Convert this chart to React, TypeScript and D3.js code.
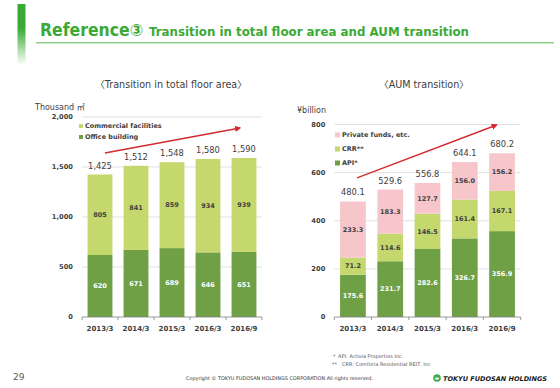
import React, { useRef, useEffect } from 'react';
import * as d3 from 'd3';

const categories = ['2013/3', '2014/3', '2015/3', '2016/3', '2016/9'];

// total floor area (thousand m2)
const officeBuilding = [620, 671, 689, 646, 651];
const commercialFacilities = [805, 841, 859, 934, 939];
const floorTotals = [1425, 1512, 1548, 1580, 1590];
const floorTicks = [0, 500, 1000, 1500, 2000];

// AUM (billion yen)
const apiValues = [175.6, 231.7, 282.6, 326.7, 356.9];
const crrValues = [71.2, 114.6, 146.5, 161.4, 167.1];
const privateFunds = [233.3, 183.3, 127.7, 156.0, 156.2];
const aumTotals = [480.1, 529.6, 556.8, 644.1, 680.2];
const aumTicks = [0, 200, 400, 600, 800];

// trend arrows: [category, position inside band, value]
const floorArrow: [string, number, number][] = [['2013/3', 0.7, 1640], ['2016/9', 0.34, 1890]];
const aumArrow: [string, number, number][] = [['2013/3', 0.66, 578], ['2016/9', 0.29, 798]];

const DARK = '#70a046';
const LIGHT = '#c4d86d';
const PINK = '#f6c6cb';
const GREEN = '#3aaa35';
const TEXT = '#404040';
const FONT = '"DejaVu Sans", Verdana, "Noto Sans CJK JP", sans-serif';

interface Series {
  name: string;
  values: number[];
  color: string;
  textColor: string;
}

interface ChartCfg {
  x0: number;
  x1: number;
  yBottom: number;
  yTop: number;
  ticks: number[];
  tickFormat: (d: number) => string;
  valueFormat: (d: number) => string;
  series: Series[];
  totals: number[];
  unit: string;
  unitX: number;
  unitY: number;
  legend: { x: number; y: number; dy: number; size: number };
  arrow: [string, number, number][];
}

function drawStacked(svg: d3.Selection<SVGSVGElement, unknown, null, undefined>, cfg: ChartCfg) {
  const g = svg.append('g').attr('font-family', FONT);

  const x = d3.scaleBand<string>()
    .domain(categories)
    .range([cfg.x0, cfg.x1])
    .paddingInner(0.31)
    .paddingOuter(0.155);
  const y = d3.scaleLinear()
    .domain([0, cfg.ticks[cfg.ticks.length - 1]])
    .range([cfg.yBottom, cfg.yTop]);

  // grid
  g.append('g')
    .selectAll('line')
    .data(cfg.ticks.filter(t => t > 0))
    .join('line')
    .attr('x1', cfg.x0)
    .attr('x2', cfg.x1)
    .attr('y1', d => y(d))
    .attr('y2', d => y(d))
    .attr('stroke', '#d9d9d9')
    .attr('stroke-width', 0.8);

  // y tick labels
  g.append('g')
    .selectAll('text')
    .data(cfg.ticks)
    .join('text')
    .attr('x', cfg.x0 - 9)
    .attr('y', d => y(d))
    .attr('dy', '0.35em')
    .attr('text-anchor', 'end')
    .attr('font-size', 6.7)
    .attr('font-weight', 'bold')
    .attr('fill', TEXT)
    .text(d => cfg.tickFormat(d));

  g.append('text')
    .attr('x', cfg.unitX)
    .attr('y', cfg.unitY)
    .attr('font-size', 8)
    .attr('fill', TEXT)
    .text(cfg.unit);

  // stacked bars
  const rows = categories.map((c, i) => {
    const r: Record<string, number | string> = { cat: c };
    cfg.series.forEach(s => { r[s.name] = s.values[i]; });
    return r;
  });
  const stack = d3.stack<Record<string, number | string>>().keys(cfg.series.map(s => s.name));
  const layers = stack(rows as any);

  layers.forEach((layer, li) => {
    const s = cfg.series[li];
    const lg = g.append('g');
    lg.selectAll('rect')
      .data(layer)
      .join('rect')
      .attr('x', d => x(d.data.cat as string)!)
      .attr('width', x.bandwidth())
      .attr('y', d => y(d[1]))
      .attr('height', d => y(d[0]) - y(d[1]))
      .attr('fill', s.color);
    lg.selectAll('text')
      .data(layer)
      .join('text')
      .attr('x', d => x(d.data.cat as string)! + x.bandwidth() / 2)
      .attr('y', d => (y(d[0]) + y(d[1])) / 2)
      .attr('dy', '0.35em')
      .attr('text-anchor', 'middle')
      .attr('font-size', 6.5)
      .attr('font-weight', 'bold')
      .attr('fill', s.textColor)
      .text(d => cfg.valueFormat(d[1] - d[0]));
  });

  // totals
  g.append('g')
    .selectAll('text')
    .data(cfg.totals)
    .join('text')
    .attr('x', (_, i) => x(categories[i])! + x.bandwidth() / 2)
    .attr('y', d => y(d) - 6)
    .attr('text-anchor', 'middle')
    .attr('font-size', 8.3)
    .attr('fill', TEXT)
    .text(d => cfg.valueFormat(d));

  // x axis
  const step = x.step();
  g.append('line')
    .attr('x1', cfg.x0)
    .attr('x2', cfg.x1)
    .attr('y1', y(0))
    .attr('y2', y(0))
    .attr('stroke', '#7f7f7f')
    .attr('stroke-width', 0.8);
  g.append('g')
    .selectAll('line')
    .data(d3.range(categories.length + 1))
    .join('line')
    .attr('x1', i => cfg.x0 + i * step)
    .attr('x2', i => cfg.x0 + i * step)
    .attr('y1', y(0))
    .attr('y2', y(0) + 3)
    .attr('stroke', '#7f7f7f')
    .attr('stroke-width', 0.8);
  g.append('g')
    .selectAll('text')
    .data(categories)
    .join('text')
    .attr('x', d => x(d)! + x.bandwidth() / 2)
    .attr('y', y(0) + 14)
    .attr('text-anchor', 'middle')
    .attr('font-size', 7)
    .attr('font-weight', 'bold')
    .attr('fill', TEXT)
    .text(d => d);

  // legend (top of stack first)
  const legendItems = [...cfg.series].reverse();
  const leg = g.append('g');
  legendItems.forEach((s, i) => {
    const ly = cfg.legend.y + i * cfg.legend.dy;
    leg.append('rect')
      .attr('x', cfg.legend.x)
      .attr('y', ly - cfg.legend.size / 2)
      .attr('width', cfg.legend.size)
      .attr('height', cfg.legend.size)
      .attr('fill', s.color);
    leg.append('text')
      .attr('x', cfg.legend.x + cfg.legend.size + 2)
      .attr('y', ly)
      .attr('dy', '0.35em')
      .attr('font-size', 6.5)
      .attr('font-weight', 'bold')
      .attr('fill', TEXT)
      .text(s.name);
  });

  // trend arrow
  const [a, b] = cfg.arrow;
  g.append('line')
    .attr('x1', x(a[0])! + x.bandwidth() * a[1])
    .attr('y1', y(a[2]))
    .attr('x2', x(b[0])! + x.bandwidth() * b[1])
    .attr('y2', y(b[2]))
    .attr('stroke', '#d42a2f')
    .attr('stroke-width', 1.4)
    .attr('marker-end', 'url(#arrowHead)');
}

const App: React.FC = () => {
  const svgRef = useRef<SVGSVGElement>(null);

  useEffect(() => {
    if (!svgRef.current) return;
    const svg = d3.select(svgRef.current);
    svg.selectAll('*').remove();

    const defs = svg.append('defs');
    const grad = defs.append('linearGradient')
      .attr('id', 'barFade')
      .attr('x1', '0').attr('y1', '0')
      .attr('x2', '0').attr('y2', '1');
    grad.append('stop').attr('offset', '0%').attr('stop-color', GREEN);
    grad.append('stop').attr('offset', '40%').attr('stop-color', GREEN);
    grad.append('stop').attr('offset', '100%').attr('stop-color', GREEN).attr('stop-opacity', 0);
    defs.append('marker')
      .attr('id', 'arrowHead')
      .attr('viewBox', '0 0 10 10')
      .attr('refX', 8)
      .attr('refY', 5)
      .attr('markerWidth', 4.5)
      .attr('markerHeight', 4.5)
      .attr('orient', 'auto')
      .append('path')
      .attr('d', 'M0,0 L10,5 L0,10 z')
      .attr('fill', '#d42a2f');

    svg.append('rect').attr('width', 560).attr('height', 388).attr('fill', '#fff');

    // header
    svg.append('rect')
      .attr('x', 17.5).attr('y', 4)
      .attr('width', 8).attr('height', 61)
      .attr('fill', 'url(#barFade)');
    svg.append('text')
      .attr('x', 40).attr('y', 36)
      .attr('font-family', FONT)
      .attr('font-size', 17)
      .attr('font-weight', 'bold')
      .attr('fill', GREEN)
      .attr('textLength', 103)
      .attr('lengthAdjust', 'spacingAndGlyphs')
      .text('Reference③');
    svg.append('text')
      .attr('x', 149).attr('y', 36)
      .attr('font-family', FONT)
      .attr('font-size', 12.5)
      .attr('font-weight', 'bold')
      .attr('fill', GREEN)
      .attr('textLength', 320)
      .attr('lengthAdjust', 'spacingAndGlyphs')
      .text('Transition in total floor area and AUM transition');
    svg.append('line')
      .attr('x1', 36).attr('x2', 554)
      .attr('y1', 42.7).attr('y2', 42.7)
      .attr('stroke', '#8dcf88')
      .attr('stroke-width', 1.5);

    // subtitles
    svg.append('text')
      .attr('x', 171).attr('y', 87.5)
      .attr('text-anchor', 'middle')
      .attr('font-family', FONT)
      .attr('font-size', 9.6)
      .attr('fill', TEXT)
      .text('〈Transition in total floor area〉');
    svg.append('text')
      .attr('x', 424).attr('y', 87.5)
      .attr('text-anchor', 'middle')
      .attr('font-family', FONT)
      .attr('font-size', 9.6)
      .attr('fill', TEXT)
      .text('〈AUM transition〉');

    drawStacked(svg, {
      x0: 82,
      x1: 262,
      yBottom: 317,
      yTop: 117,
      ticks: floorTicks,
      tickFormat: d3.format(','),
      valueFormat: d3.format(','),
      series: [
        { name: 'Office building', values: officeBuilding, color: DARK, textColor: '#fff' },
        { name: 'Commercial facilities', values: commercialFacilities, color: LIGHT, textColor: TEXT },
      ],
      totals: floorTotals,
      unit: 'Thousand ㎡',
      unitX: 35,
      unitY: 110,
      legend: { x: 79, y: 126, dy: 11, size: 4 },
      arrow: floorArrow,
    });

    drawStacked(svg, {
      x0: 334.3,
      x1: 520.7,
      yBottom: 317,
      yTop: 124.5,
      ticks: aumTicks,
      tickFormat: d3.format('d'),
      valueFormat: d3.format('.1f'),
      series: [
        { name: 'API*', values: apiValues, color: DARK, textColor: '#fff' },
        { name: 'CRR**', values: crrValues, color: LIGHT, textColor: TEXT },
        { name: 'Private funds, etc.', values: privateFunds, color: PINK, textColor: TEXT },
      ],
      totals: aumTotals,
      unit: '¥billion',
      unitX: 297,
      unitY: 113,
      legend: { x: 335, y: 135, dy: 14, size: 5 },
      arrow: aumArrow,
    });

    // footer
    const foot = svg.append('g').attr('font-family', FONT).attr('fill', '#595959');
    foot.append('text').attr('x', 13).attr('y', 380).attr('font-size', 9).text('29');
    foot.append('text').attr('x', 333).attr('y', 358).attr('font-size', 5).text('*');
    foot.append('text').attr('x', 338).attr('y', 358).attr('font-size', 5).text('API: Activia Properties Inc.');
    foot.append('text').attr('x', 332).attr('y', 366).attr('font-size', 5).text('**');
    foot.append('text').attr('x', 342).attr('y', 366).attr('font-size', 5).text('CRR: Comforia Residential REIT, Inc');
    foot.append('text')
      .attr('x', 186).attr('y', 380)
      .attr('font-size', 5)
      .attr('fill', '#333')
      .attr('textLength', 187)
      .attr('lengthAdjust', 'spacingAndGlyphs')
      .text('Copyright © TOKYU FUDOSAN HOLDINGS CORPORATION All rights reserved.');

    // logo
    svg.append('circle').attr('cx', 437).attr('cy', 378).attr('r', 3.8).attr('fill', '#3fae49');
    svg.append('ellipse').attr('cx', 437).attr('cy', 378.6).attr('rx', 2.2).attr('ry', 1.1).attr('fill', '#fff');
    svg.append('text')
      .attr('x', 443).attr('y', 381)
      .attr('font-family', FONT)
      .attr('font-size', 6.4)
      .attr('font-weight', 'bold')
      .attr('font-style', 'italic')
      .attr('fill', '#1a1a1a')
      .attr('textLength', 104)
      .attr('lengthAdjust', 'spacingAndGlyphs')
      .text('TOKYU FUDOSAN HOLDINGS');
  }, []);

  return (
    <svg
      ref={svgRef}
      width={560}
      height={388}
      style={{ position: 'absolute', left: 0, top: 0, display: 'block' }}
    />
  );
};

export default App;
